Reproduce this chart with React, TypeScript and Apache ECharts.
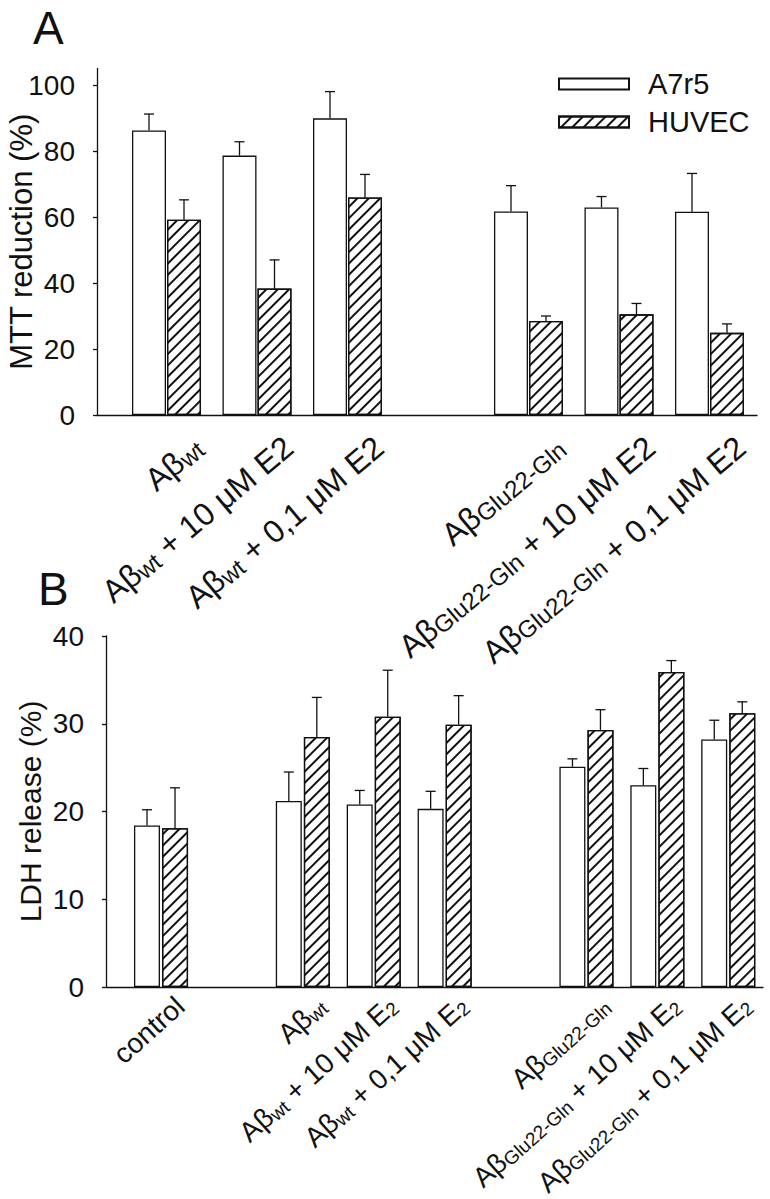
import React, { useEffect, useRef } from 'react';
import * as echarts from 'echarts';

// ---------- data ----------
// Panel A (MTT reduction, %). null = empty slot on the axis.
const labelsA = [
  'Aβ{s|wt}',
  'Aβ{s|wt} + 10 μM E2',
  'Aβ{s|wt} + 0,1 μM E2',
  null,
  'Aβ{s|Glu22-Gln}',
  'Aβ{s|Glu22-Gln} + 10 μM E2',
  'Aβ{s|Glu22-Gln} + 0,1 μM E2',
];
const a7r5A = [86.2, 78.6, 89.9, null, 61.7, 62.9, 61.6];
const a7r5ErrA = [5.0, 4.2, 8.1, null, 7.8, 3.3, 11.6];
const huvecA = [59.2, 38.3, 65.9, null, 28.5, 30.5, 24.9];
const huvecErrA = [6.0, 8.7, 7.0, null, 1.5, 3.3, 2.7];
const yTicksA = [0, 20, 40, 60, 80, 100];

// Panel B (LDH release, %)
const labelsB = [
  'control',
  null,
  'Aβ{s|wt}',
  'Aβ{s|wt} + 10 μM E{s|2}',
  'Aβ{s|wt} + 0,1 μM E{s|2}',
  null,
  'Aβ{s|Glu22-Gln}',
  'Aβ{s|Glu22-Gln} + 10 μM E{s|2}',
  'Aβ{s|Glu22-Gln} + 0,1 μM E{s|2}',
];
const a7r5B = [18.4, null, 21.2, 20.8, 20.3, null, 25.1, 23.0, 28.2];
const a7r5ErrB = [1.8, null, 3.3, 1.6, 2.0, null, 0.9, 1.9, 2.2];
const huvecB = [18.1, null, 28.5, 30.8, 29.9, null, 29.3, 35.9, 31.2];
const huvecErrB = [4.6, null, 4.5, 5.3, 3.3, null, 2.3, 1.3, 1.3];
const yTicksB = [0, 10, 20, 30, 40];

const seriesNames = ['A7r5', 'HUVEC'];

// ---------- style / layout ----------
const FONT = '"Liberation Sans", Arial, Helvetica, sans-serif';
const INK = '#111';
const LABEL_SHIFT_A = 0.35; // label anchor offset (in slot units)
const LABEL_SHIFT_B = 0.27;

const hatch = {
  symbol: 'rect',
  symbolSize: 1,
  color: INK,
  dashArrayX: [1, 0],
  dashArrayY: [1.3, 5.6],
  rotation: -Math.PI / 4,
};

function xy(values: (number | null)[]) {
  return values
    .map((v, i) => (v == null ? null : [i, v]))
    .filter((d) => d !== null) as number[][];
}
function xye(values: (number | null)[], errs: (number | null)[]) {
  return values
    .map((v, i) => (v == null ? null : [i, v, errs[i] as number]))
    .filter((d) => d !== null) as number[][];
}
function labelPositions(labels: (string | null)[], shift: number) {
  return labels
    .map((l, i) => (l == null ? null : i + shift))
    .filter((d) => d !== null) as number[];
}

function errorSeries(name: string, gridIdx: number, data: number[][], offset: number, cap: number) {
  return {
    type: 'custom',
    name,
    xAxisIndex: gridIdx,
    yAxisIndex: gridIdx,
    data,
    z: 3,
    renderItem: (params: any, api: any) => {
      const x = api.value(0);
      const m = api.value(1);
      const s = api.value(2);
      const base = api.coord([x, m]);
      const top = api.coord([x, m + s]);
      const cx = base[0] + offset;
      const st = { stroke: INK, lineWidth: 1.3 };
      return {
        type: 'group',
        children: [
          { type: 'line', shape: { x1: cx, y1: base[1], x2: cx, y2: top[1] }, style: st },
          { type: 'line', shape: { x1: cx - cap / 2, y1: top[1], x2: cx + cap / 2, y2: top[1] }, style: st },
        ],
      };
    },
  };
}

export default function App() {
  const ref = useRef<HTMLDivElement>(null);

  useEffect(() => {
    document.body.style.margin = '0';
    if (!ref.current) return;
    const chart = echarts.init(ref.current, null, { renderer: 'svg' });

    const axisLineStyle = { color: INK, width: 1.3 };

    const xAxisFor = (labels: (string | null)[], shift: number, min: number, max: number, gridIndex: number, rotate: number, fs: number, subFs: number, lh: number, subLh: number, margin: number) => ({
      type: 'value',
      gridIndex,
      min,
      max,
      axisLine: { show: true, onZero: false, lineStyle: axisLineStyle },
      axisTick: { show: false },
      splitLine: { show: false },
      axisLabel: {
        show: true,
        customValues: labelPositions(labels, shift),
        rotate,
        margin,
        hideOverlap: false,
        color: INK,
        fontFamily: FONT,
        fontSize: fs,
        lineHeight: lh,
        formatter: (v: number) => labels[Math.round(v - shift)] || '',
        rich: {
          s: { fontSize: subFs, lineHeight: subLh, verticalAlign: 'bottom', color: INK, fontFamily: FONT },
        },
      },
    });

    const yAxisFor = (ticks: number[], max: number, gridIndex: number, name: string, nameGap: number, nameFs: number) => ({
      type: 'value',
      gridIndex,
      min: 0,
      max,
      axisLine: { show: true, onZero: false, lineStyle: axisLineStyle },
      axisTick: { show: true, length: 4, customValues: ticks, lineStyle: axisLineStyle },
      axisLabel: { customValues: ticks, margin: 22, color: INK, fontFamily: FONT, fontSize: 28 },
      splitLine: { show: false },
      name,
      nameLocation: 'middle',
      nameGap,
      nameMoveOverlap: false,
      nameTextStyle: { color: INK, fontFamily: FONT, fontSize: nameFs },
    });

    const whiteStyle = { color: '#fff', borderColor: INK, borderWidth: 1.3 };
    const hatchStyle = { color: '#fff', borderColor: INK, borderWidth: 1.3, decal: hatch };

    const option: any = {
      animation: false,
      backgroundColor: '#fff',
      textStyle: { fontFamily: FONT, color: INK },
      title: [
        { text: 'A', left: 33, top: 5, padding: 0, textStyle: { fontSize: 46, fontWeight: 'normal', color: INK, fontFamily: FONT } },
        { text: 'B', left: 38, top: 566, padding: 0, textStyle: { fontSize: 46, fontWeight: 'normal', color: INK, fontFamily: FONT } },
      ],
      legend: {
        data: seriesNames,
        orient: 'vertical',
        left: 558,
        top: 69,
        padding: 0,
        itemWidth: 70,
        itemHeight: 11,
        itemGap: 8,
        icon: 'rect',
        selectedMode: false,
        textStyle: { fontSize: 29, color: INK, fontFamily: FONT, lineHeight: 30, padding: [0, 0, 0, 14] },
      },
      grid: [
        { left: 97, right: 13, top: 68.5, bottom: 784, outerBoundsMode: 'none' },
        { left: 106, right: 7, top: 636, bottom: 212, outerBoundsMode: 'none' },
      ],
      xAxis: [
        xAxisFor(labelsA, LABEL_SHIFT_A, -0.768, 6.525, 0, 40, 32, 24, 33, 22, 28),
        xAxisFor(labelsB, LABEL_SHIFT_B, -0.776, 8.49, 1, 42, 28, 19, 29, 19, 15),
      ],
      yAxis: [
        yAxisFor(yTicksA, 105, 0, 'MTT reduction (%)', 60, 31),
        yAxisFor(yTicksB, 40, 1, 'LDH release (%)', 61, 30),
      ],
      series: [
        { type: 'bar', name: seriesNames[0], xAxisIndex: 0, yAxisIndex: 0, data: xy(a7r5A), barWidth: 34, barGap: '3%', itemStyle: whiteStyle },
        { type: 'bar', name: seriesNames[1], xAxisIndex: 0, yAxisIndex: 0, data: xy(huvecA), barWidth: 34, barGap: '3%', itemStyle: hatchStyle },
        { type: 'bar', name: seriesNames[0], xAxisIndex: 1, yAxisIndex: 1, data: xy(a7r5B), barWidth: 26, barGap: '8%', itemStyle: whiteStyle },
        { type: 'bar', name: seriesNames[1], xAxisIndex: 1, yAxisIndex: 1, data: xy(huvecB), barWidth: 26, barGap: '8%', itemStyle: hatchStyle },
        errorSeries('A7r5 SD (A)', 0, xye(a7r5A, a7r5ErrA), -17.5, 10),
        errorSeries('HUVEC SD (A)', 0, xye(huvecA, huvecErrA), 17.5, 10),
        errorSeries('A7r5 SD (B)', 1, xye(a7r5B, a7r5ErrB), -14, 10),
        errorSeries('HUVEC SD (B)', 1, xye(huvecB, huvecErrB), 14, 10),
      ],
    };

    chart.setOption(option);
    return () => chart.dispose();
  }, []);

  return <div ref={ref} style={{ width: 770, height: 1199 }} />;
}
